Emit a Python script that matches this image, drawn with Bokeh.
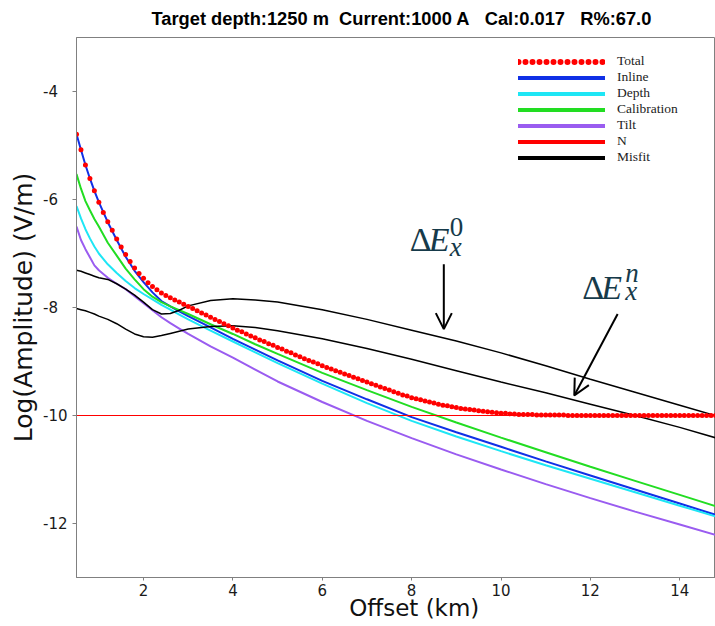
from bokeh.plotting import figure
from bokeh.models import (Range1d, FixedTicker, Legend, LegendItem, Label, Arrow,
                          OpenHead, ColumnDataSource)
from bokeh.embed import file_html
from bokeh.resources import INLINE

# ---------------- data ----------------
offset_km = [0.5, 0.6, 0.7, 0.8, 0.9, 1.0, 1.2, 1.4, 1.6, 1.8, 2.0, 2.2, 2.4, 2.6, 2.8,
             3.0, 3.5, 4.0, 4.5, 5.0, 6.0, 7.0, 8.0, 9.0, 10.0, 11.0, 12.0, 13.0, 14.0, 15.0]

inline = [-4.79, -5.08, -5.36, -5.61, -5.84, -6.05, -6.42, -6.75, -7.06, -7.32, -7.53, -7.72,
          -7.88, -7.98, -8.07, -8.16, -8.37, -8.58, -8.78, -8.98, -9.36, -9.70, -10.03, -10.31,
          -10.58, -10.85, -11.11, -11.37, -11.63, -11.89]
depth = [-6.12, -6.35, -6.55, -6.72, -6.87, -7.00, -7.20, -7.36, -7.51, -7.64, -7.75, -7.85,
         -7.95, -8.04, -8.13, -8.22, -8.43, -8.63, -8.83, -9.03, -9.41, -9.77, -10.10, -10.39,
         -10.66, -10.92, -11.17, -11.42, -11.67, -11.92]
calibration = [-5.53, -5.80, -6.03, -6.20, -6.36, -6.50, -6.80, -7.04, -7.28, -7.48, -7.66, -7.80,
               -7.90, -7.98, -8.05, -8.12, -8.31, -8.49, -8.68, -8.86, -9.21, -9.53, -9.84, -10.13,
               -10.41, -10.68, -10.95, -11.21, -11.47, -11.73]
tilt = [-6.50, -6.75, -6.92, -7.07, -7.22, -7.31, -7.45, -7.56, -7.66, -7.79, -7.92, -8.05,
        -8.18, -8.29, -8.39, -8.49, -8.72, -8.93, -9.15, -9.37, -9.75, -10.10, -10.42, -10.72,
        -11.00, -11.27, -11.53, -11.78, -12.02, -12.26]
noise_n = [-10.0] * len(offset_km)
misfit_0 = [-7.31, -7.33, -7.36, -7.39, -7.42, -7.45, -7.48, -7.56, -7.66, -7.77, -7.90, -8.04,
            -8.12, -8.11, -8.05, -7.97, -7.87, -7.84, -7.86, -7.90, -8.04, -8.22, -8.42, -8.62,
            -8.84, -9.08, -9.33, -9.57, -9.81, -10.05]
misfit_n = [-8.02, -8.04, -8.06, -8.09, -8.12, -8.16, -8.22, -8.30, -8.40, -8.49, -8.54, -8.55,
            -8.52, -8.48, -8.44, -8.40, -8.35, -8.34, -8.37, -8.43, -8.58, -8.76, -8.96, -9.17,
            -9.38, -9.58, -9.79, -10.00, -10.22, -10.46]

total_offset_km = [0.5, 0.6, 0.7, 0.8, 0.9, 1.0, 1.1, 1.2, 1.3, 1.4, 1.5, 1.6, 1.7, 1.8, 1.9,
                   2.0, 2.1, 2.2, 2.3, 2.4, 2.5, 2.6, 2.7, 2.8, 2.9, 3.0, 3.1, 3.2, 3.3, 3.4,
                   3.5, 3.6, 3.7, 3.8, 3.9, 4.0, 4.1, 4.2, 4.3, 4.4, 4.5, 4.6, 4.7, 4.8, 4.9,
                   5.0, 5.1, 5.2, 5.3, 5.4, 5.5, 5.6, 5.7, 5.8, 5.9, 6.0, 6.1, 6.2, 6.3, 6.4,
                   6.5, 6.6, 6.7, 6.8, 6.9, 7.0, 7.1, 7.2, 7.3, 7.4, 7.5, 7.6, 7.7, 7.8, 7.9,
                   8.0, 8.1, 8.2, 8.3, 8.4, 8.5, 8.6, 8.7, 8.8, 8.9, 9.0, 9.1, 9.2, 9.3, 9.4,
                   9.5, 9.6, 9.7, 9.8, 9.9, 10.0, 10.1, 10.2, 10.3, 10.4, 10.5, 10.6, 10.7, 10.8,
                   10.9, 11.0, 11.1, 11.2, 11.3, 11.4, 11.5, 11.6, 11.7, 11.8, 11.9, 12.0, 12.1,
                   12.2, 12.3, 12.4, 12.5, 12.6, 12.7, 12.8, 12.9, 13.0, 13.1, 13.2, 13.3, 13.4,
                   13.5, 13.6, 13.7, 13.8, 13.9, 14.0, 14.1, 14.2, 14.3, 14.4, 14.5, 14.6, 14.7,
                   14.8]
total = [-4.79, -5.08, -5.36, -5.61, -5.84, -6.05, -6.24, -6.41, -6.57, -6.73, -6.88, -7.02,
         -7.15, -7.27, -7.37, -7.46, -7.54, -7.61, -7.67, -7.73, -7.78, -7.82, -7.86, -7.90,
         -7.94, -7.98, -8.02, -8.06, -8.10, -8.14, -8.18, -8.22, -8.26, -8.30, -8.34, -8.38,
         -8.42, -8.45, -8.49, -8.53, -8.56, -8.60, -8.63, -8.67, -8.70, -8.74, -8.77, -8.81,
         -8.84, -8.88, -8.91, -8.95, -8.98, -9.01, -9.04, -9.08, -9.11, -9.14, -9.17, -9.20,
         -9.23, -9.26, -9.29, -9.32, -9.35, -9.38, -9.41, -9.44, -9.47, -9.50, -9.53, -9.56,
         -9.59, -9.62, -9.64, -9.67, -9.69, -9.71, -9.73, -9.75, -9.77, -9.79, -9.81, -9.82,
         -9.84, -9.85, -9.87, -9.88, -9.89, -9.90, -9.91, -9.92, -9.93, -9.94, -9.95, -9.96,
         -9.96, -9.97, -9.97, -9.98, -9.98, -9.98, -9.98, -9.99, -9.99, -9.99, -9.99, -9.99,
         -9.99, -9.99] + [-10.0] * 34

x_ticks = [2, 4, 6, 8, 10, 12, 14]
y_ticks = [-4, -6, -8, -10, -12]
# single-digit labels padded with a figure space so that all labels start at the same left edge
y_tick_labels = ["-4\u2007", "-6\u2007", "-8\u2007", "-10", "-12"]

title_text = "Target depth:1250 m\u00a0 Current:1000 A\u00a0\u00a0 Cal:0.017\u00a0\u00a0 R%:67.0"
x_label = "\u00a0\u00a0\u00a0\u00a0\u00a0Offset (km)"
y_label = "Log(Amplitude) (V/m)"
legend_labels = ["Total", "Inline", "Depth", "Calibration", "Tilt", "N", "Misfit"]

# annotation anchors (data units)
ann0_anchor = (7.96, -6.74)
annn_anchor = (11.82, -7.63)
arrow0 = (8.72, -7.20, 8.72, -8.40)
arrown = (12.61, -8.12, 11.64, -9.63)

# ---------------- styles ----------------
C_BLUE = "#1030e6"
C_CYAN = "#1ee6f5"
C_GREEN = "#22dd22"
C_PURPLE = "#9a5cf0"
C_RED = "#ff0000"
C_BLACK = "#000000"
C_ANN = "#163a4a"
GRAY = "#808080"
NAN = float("nan")

p = figure(width=715, height=626, x_range=Range1d(0.5, 14.8), y_range=Range1d(-13, -3),
           output_backend="svg", toolbar_location=None,
           min_border_left=76, min_border_right=0, min_border_top=37, min_border_bottom=49)

p.title.text = title_text
p.title.text_font = "Liberation Sans"
p.title.text_font_style = "bold"
p.title.text_font_size = "18.3px"
p.title.text_color = "#000000"
p.title.align = "left"
p.title.offset = 75
p.title.vertical_align = "top"
p.title.standoff = 13

p.xgrid.visible = False
p.ygrid.visible = False
p.outline_line_color = GRAY
p.background_fill_color = "white"
p.border_fill_color = "white"

for ax in (p.xaxis[0], p.yaxis[0]):
    ax.axis_line_color = GRAY
    ax.major_tick_line_color = GRAY
    ax.minor_tick_line_color = None
    ax.major_tick_in = 0
    ax.major_label_text_font = "DejaVu Sans"
    ax.major_label_text_font_size = "15px"
    ax.major_label_text_color = "#1a1a1a"
    ax.axis_label_text_font = "DejaVu Sans"
    ax.axis_label_text_font_style = "normal"
    ax.axis_label_text_font_size = "23px"
    ax.axis_label_text_color = "#111111"

p.xaxis.ticker = FixedTicker(ticks=x_ticks)
p.yaxis.ticker = FixedTicker(ticks=y_ticks)
p.yaxis.major_label_overrides = {t: s for t, s in zip(y_ticks, y_tick_labels)}
p.xaxis.major_tick_out = 3
p.yaxis.major_tick_out = 4
p.xaxis.major_label_standoff = 3
p.yaxis.major_label_standoff = 5
p.xaxis.axis_label = x_label
p.yaxis.axis_label = y_label
p.yaxis.axis_label_text_font_size = "25px"
p.xaxis.axis_label_standoff = -4
p.yaxis.axis_label_standoff = 2

# ---------------- curves ----------------
src = ColumnDataSource(dict(x=offset_km, inline=inline, depth=depth, cal=calibration, tilt=tilt,
                            n=noise_n, m0=misfit_0, mn=misfit_n))
p.line("x", "inline", source=src, color=C_BLUE, line_width=2)
p.line("x", "depth", source=src, color=C_CYAN, line_width=2)
p.line("x", "cal", source=src, color=C_GREEN, line_width=2)
p.line("x", "tilt", source=src, color=C_PURPLE, line_width=2)
p.line("x", "n", source=src, color=C_RED, line_width=1.2)
p.line("x", "m0", source=src, color=C_BLACK, line_width=1.5)
p.line("x", "mn", source=src, color=C_BLACK, line_width=1.5)
p.scatter(x=total_offset_km, y=total, size=5, color=C_RED, line_color=None)

# ---------------- legend (proxy renderers that draw nothing in the plot) ----------------
leg_total = p.line(x=[NAN], y=[NAN], color=C_RED, line_width=6, line_dash="0 7",
                   line_cap="round")
proxies = [leg_total]
for c in (C_BLUE, C_CYAN, C_GREEN, C_PURPLE, C_RED, C_BLACK):
    proxies.append(p.line(x=[NAN], y=[NAN], color=c, line_width=4, line_cap="round"))

legend = Legend(items=[LegendItem(label=l, renderers=[r]) for l, r in zip(legend_labels, proxies)],
                location=(442, 412), glyph_width=87, glyph_height=15, label_height=15,
                spacing=0, padding=0, margin=0, label_standoff=12,
                border_line_color=None, background_fill_alpha=0,
                label_text_font="Liberation Serif", label_text_font_size="13.5px",
                label_text_color="#222222")
p.add_layout(legend)

# ---------------- annotations ----------------
def delta_label(anchor, sup, sub_dy, sup_dy, script_dx):
    ax, ay = anchor
    p.add_layout(Label(x=ax, y=ay, text="Δ", text_font="Liberation Serif", text_font_size="34px",
                       text_color=C_ANN, text_baseline="alphabetic"))
    p.add_layout(Label(x=ax, y=ay, x_offset=19, text="E", text_font="Liberation Serif",
                       text_font_style="italic", text_font_size="34px", text_color=C_ANN,
                       text_baseline="alphabetic"))
    p.add_layout(Label(x=ax, y=ay, x_offset=script_dx, y_offset=sup_dy, text=sup,
                       text_font="Liberation Serif",
                       text_font_style="normal" if sup == "0" else "italic",
                       text_font_size="27px", text_color=C_ANN, text_baseline="alphabetic"))
    p.add_layout(Label(x=ax, y=ay, x_offset=script_dx, y_offset=sub_dy, text="x",
                       text_font="Liberation Serif", text_font_style="italic",
                       text_font_size="27px", text_color=C_ANN, text_baseline="alphabetic"))

delta_label(ann0_anchor, "0", -8, 12, 40)
delta_label(annn_anchor, "n", -3, 15, 43)

for (xs, ys, xe, ye) in (arrow0, arrown):
    p.add_layout(Arrow(end=OpenHead(size=16, line_width=2, line_color=C_BLACK),
                       x_start=xs, y_start=ys, x_end=xe, y_end=ye,
                       line_width=2, line_color=C_BLACK))

open("out.html", "w").write(file_html(p, INLINE))
